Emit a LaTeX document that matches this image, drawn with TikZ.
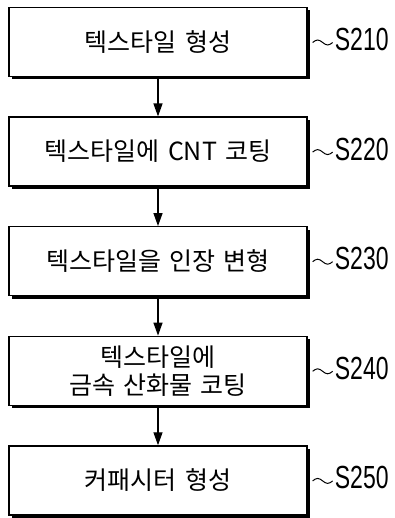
\documentclass[tikz,border=0pt]{standalone}
\usepackage{fontspec}
\newfontfamily\kr[WordSpace=1.5]{Noto Sans CJK KR}
\newfontfamily\lab[FakeStretch=0.72]{Liberation Sans}
\usetikzlibrary{arrows.meta,calc}
\begin{document}
\begin{tikzpicture}[x=1pt,y=-1pt,
  stepbox/.style={draw=black,line width=1.3pt,fill=white,minimum width=298pt,minimum height=69pt,
    inner sep=0pt,align=center,font=\kr\fontsize{25}{30}\selectfont},
  shadowbox/.style={fill=black,minimum width=298pt,minimum height=69pt,inner sep=0pt},
  steplabel/.style={anchor=west,inner sep=0pt,font=\lab\fontsize{32}{34}\selectfont},
  flow/.style={line width=1.3pt,-{Triangle[width=9pt,length=13pt]}},
  wave/.style={line width=1pt}]
\useasboundingbox (0,0) rectangle (395,518);
\foreach \i/\y in {1/42,2/151.6,3/261.2,4/370.8,5/480.4}{
  \node[shadowbox] (sh\i) at (161,\y+3) {};
}
\node[stepbox] (b1) at (158,42) {텍스타일 형성};
\node[stepbox] (b2) at (158,151.6) {텍스타일에 CNT 코팅};
\node[stepbox] (b3) at (158,261.2) {텍스타일을 인장 변형};
\node[stepbox] (b4) at (158,370.8) {텍스타일에\\[-2pt]금속 산화물 코팅};
\node[stepbox] (b5) at (158,480.4) {커패시터 형성};
\foreach \i/\t in {1/S210,2/S220,3/S230,4/S240,5/S250}{
  \node[steplabel] (l\i) at ($(b\i.east)+(27,-2.5)$) {\t};
  \draw[wave] ([xshift=-22pt,yshift=-3pt]l\i.west) sin ++(5,-2.5) cos ++(5,2.5) sin ++(5,2.5) cos ++(5,-2.5);
}
\foreach \a/\b in {b1/b2,b2/b3,b3/b4,b4/b5}{
  \draw[flow] (\a.south) -- (\b.north);
}
\end{tikzpicture}
\end{document}
